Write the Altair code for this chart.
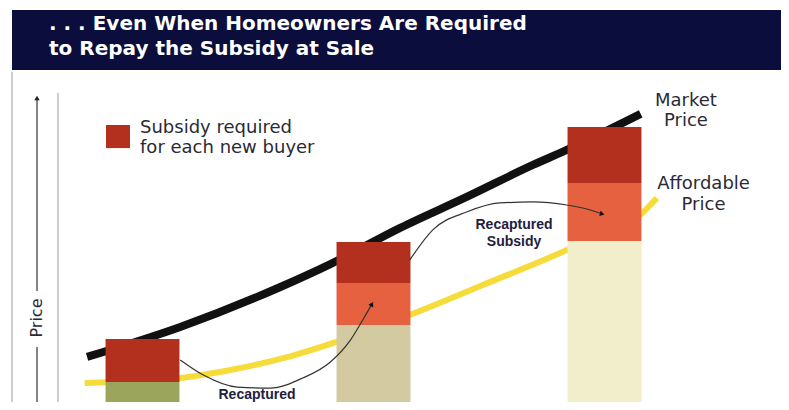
import altair as alt
import pandas as pd

# ---------------- data (conceptual units: time step on x, price on y) ----------------
bar_x = [2, 5, 8]
affordable_top = [13.9, 42.3, 84.1]
recaptured_top = [13.9, 63.2, 112.9]
market_top = [35.3, 83.6, 140.8]
base_kind = ["base1", "base2", "base3"]
bar_half = 0.48

market_x = [1.28, 2.49, 3.79, 4.44, 5.34, 6.21, 7.07, 7.51, 8.47]
market_y = [26.4, 41.3, 61.2, 72.6, 90.5, 106.0, 121.9, 129.4, 147.3]

afford_x = [1.25, 2.49, 3.14, 3.79, 4.47, 5.47, 6.42, 7.51, 8.49, 8.68]
afford_y = [13.4, 15.9, 19.9, 25.4, 33.3, 47.3, 62.2, 79.6, 98.0, 105.5]

arrow1_x = [2.49, 2.79, 3.23, 3.66, 4.08, 4.44, 4.70, 4.86, 4.98]
arrow1_y = [24.9, 17.4, 11.4, 10.9, 15.9, 23.9, 34.8, 44.8, 52.7]
arrow2_x = [5.47, 5.77, 6.21, 6.64, 7.07, 7.51, 7.77, 7.97]
arrow2_y = [74.6, 89.6, 98.5, 103.0, 103.5, 102.0, 100.0, 97.5]
head_x = [4.98, 7.97]
head_y = [52.7, 97.5]
head_angle = [29, 104]

title_lines = [". . . Even When Homeowners Are Required", "to Repay the Subsidy at Sale"]
legend_lines = ["Subsidy required", "for each new buyer"]
legend_box = [1.526, 1.838, 130.3, 141.8]
legend_text_pos = [1.968, 137.8, 127.9]

label_text = ["Market", "Price", "Affordable", "Price"]
label_x = [9.058, 9.058, 9.286, 9.286]
label_y = [151.2, 141.3, 110.0, 99.5]

recap_text = ["Recaptured", "Recaptured", "Subsidy"]
recap_x = [3.487, 6.825, 6.825]
recap_y = [5.5, 90.0, 81.6]

seg_domain = ["base1", "base2", "base3", "recaptured", "subsidy"]
seg_colors = ["#9ba55c", "#d3caa2", "#f2edcb", "#e6613f", "#b3301f"]

# ---------------- tables ----------------
rows = []
for i, bx in enumerate(bar_x):
    rows.append(dict(x0=bx - bar_half, x1=bx + bar_half, y0=0, y1=affordable_top[i], kind=base_kind[i]))
    if recaptured_top[i] > affordable_top[i]:
        rows.append(dict(x0=bx - bar_half, x1=bx + bar_half, y0=affordable_top[i], y1=recaptured_top[i], kind="recaptured"))
    rows.append(dict(x0=bx - bar_half, x1=bx + bar_half, y0=recaptured_top[i], y1=market_top[i], kind="subsidy"))
segs = pd.DataFrame(rows)

market = pd.DataFrame({"x": market_x, "y": market_y})
afford = pd.DataFrame({"x": afford_x, "y": afford_y})
arrow1 = pd.DataFrame({"x": arrow1_x, "y": arrow1_y})
arrow2 = pd.DataFrame({"x": arrow2_x, "y": arrow2_y})
heads = pd.DataFrame({"x": head_x, "y": head_y, "a": head_angle})
labels = pd.DataFrame({"x": label_x, "y": label_y, "t": label_text})
recaps = pd.DataFrame({"x": recap_x, "y": recap_y, "t": recap_text})
legbox = pd.DataFrame({"x0": [legend_box[0]], "x1": [legend_box[1]], "y0": [legend_box[2]], "y1": [legend_box[3]]})
legtxt = pd.DataFrame({"x": [legend_text_pos[0]] * 2, "y": legend_text_pos[1:], "t": legend_lines})
dummy = pd.DataFrame({"k": [0]})

W, H = 773, 394
xs = alt.Scale(domain=[0, 10], range=[-19.5, 750.5], nice=False, zero=False)
ys = alt.Scale(domain=[0, 200], range=[402, 0], nice=False, zero=False)
X = lambda f="x": alt.X(f, type="quantitative", scale=xs, axis=None)
Y = lambda f="y": alt.Y(f, type="quantitative", scale=ys, axis=None)

NAVY = "#0b0e3c"
TXT = "#2a2a36"

band = alt.Chart(dummy).mark_rect(color=NAVY).encode(
    x=alt.value(4), x2=alt.value(W), y=alt.value(2), y2=alt.value(62))
t1 = alt.Chart(dummy).mark_text(text=title_lines[0], color="white", font="DejaVu Sans",
                                fontWeight="bold", fontSize=20, align="left",
                                baseline="alphabetic").encode(x=alt.value(41), y=alt.value(22))
t2 = alt.Chart(dummy).mark_text(text=title_lines[1], color="white", font="DejaVu Sans",
                                fontWeight="bold", fontSize=20, align="left",
                                baseline="alphabetic").encode(x=alt.value(41), y=alt.value(47))

border_l = alt.Chart(dummy).mark_rule(color="#9a9a9a", strokeWidth=1).encode(
    x=alt.value(4), y=alt.value(64), y2=alt.value(H))
vline2 = alt.Chart(dummy).mark_rule(color="#9a9a9a", strokeWidth=1).encode(
    x=alt.value(50), y=alt.value(85), y2=alt.value(H))
parrow1 = alt.Chart(dummy).mark_rule(color="#333333", strokeWidth=1.2).encode(
    x=alt.value(29), y=alt.value(90), y2=alt.value(283))
parrow2 = alt.Chart(dummy).mark_rule(color="#333333", strokeWidth=1.2).encode(
    x=alt.value(29), y=alt.value(339), y2=alt.value(H))
phead = alt.Chart(dummy).mark_point(shape="triangle-up", filled=True, color="#222222",
                                    size=30, opacity=1).encode(x=alt.value(29), y=alt.value(90))
ptext = alt.Chart(dummy).mark_text(text="Price", angle=270, color=TXT, font="DejaVu Sans",
                                   fontSize=16, align="center", baseline="middle").encode(
    x=alt.value(29), y=alt.value(310))

mline = alt.Chart(market).mark_line(color="#111111", strokeWidth=8, interpolate="monotone",
                                    strokeCap="butt").encode(x=X(), y=Y())
aline = alt.Chart(afford).mark_line(color="#f6dc3a", strokeWidth=6, interpolate="monotone",
                                    strokeCap="butt").encode(x=X(), y=Y())

bars = alt.Chart(segs).mark_rect().encode(
    x=X("x0"), x2="x1", y=Y("y0"), y2="y1",
    color=alt.Color("kind:N", scale=alt.Scale(domain=seg_domain, range=seg_colors), legend=None))

a1 = alt.Chart(arrow1).mark_line(color="#333333", strokeWidth=1.2, interpolate="monotone").encode(x=X(), y=Y())
a2 = alt.Chart(arrow2).mark_line(color="#333333", strokeWidth=1.2, interpolate="monotone").encode(x=X(), y=Y())
ah = alt.Chart(heads).mark_point(shape="triangle-up", filled=True, color="#111111", size=30,
                                 opacity=1).encode(x=X(), y=Y(), angle=alt.Angle("a:Q", scale=None))

lab = alt.Chart(labels).mark_text(color=TXT, font="DejaVu Sans", fontSize=18, align="center",
                                  baseline="alphabetic").encode(x=X(), y=Y(), text="t:N")
rec = alt.Chart(recaps).mark_text(color="#1e2040", font="Liberation Sans", fontWeight="bold",
                                  fontSize=14, align="center", baseline="alphabetic").encode(
    x=X(), y=Y(), text="t:N")

lbox = alt.Chart(legbox).mark_rect(color="#b3301f").encode(x=X("x0"), x2="x1", y=Y("y0"), y2="y1")
ltxt = alt.Chart(legtxt).mark_text(color=TXT, font="DejaVu Sans", fontSize=18, align="left",
                                   baseline="alphabetic").encode(x=X(), y=Y(), text="t:N")

chart = alt.layer(
    band, t1, t2, border_l, vline2, parrow1, parrow2, phead, ptext,
    mline, aline, bars, a1, a2, ah, lab, rec, lbox, ltxt
).properties(
    width=W, height=H, padding=0, autosize=alt.AutoSizeParams(type="none"), background="white"
).configure_view(stroke=None)

chart.save("out.html", embed_options={"renderer": "svg", "actions": False})
